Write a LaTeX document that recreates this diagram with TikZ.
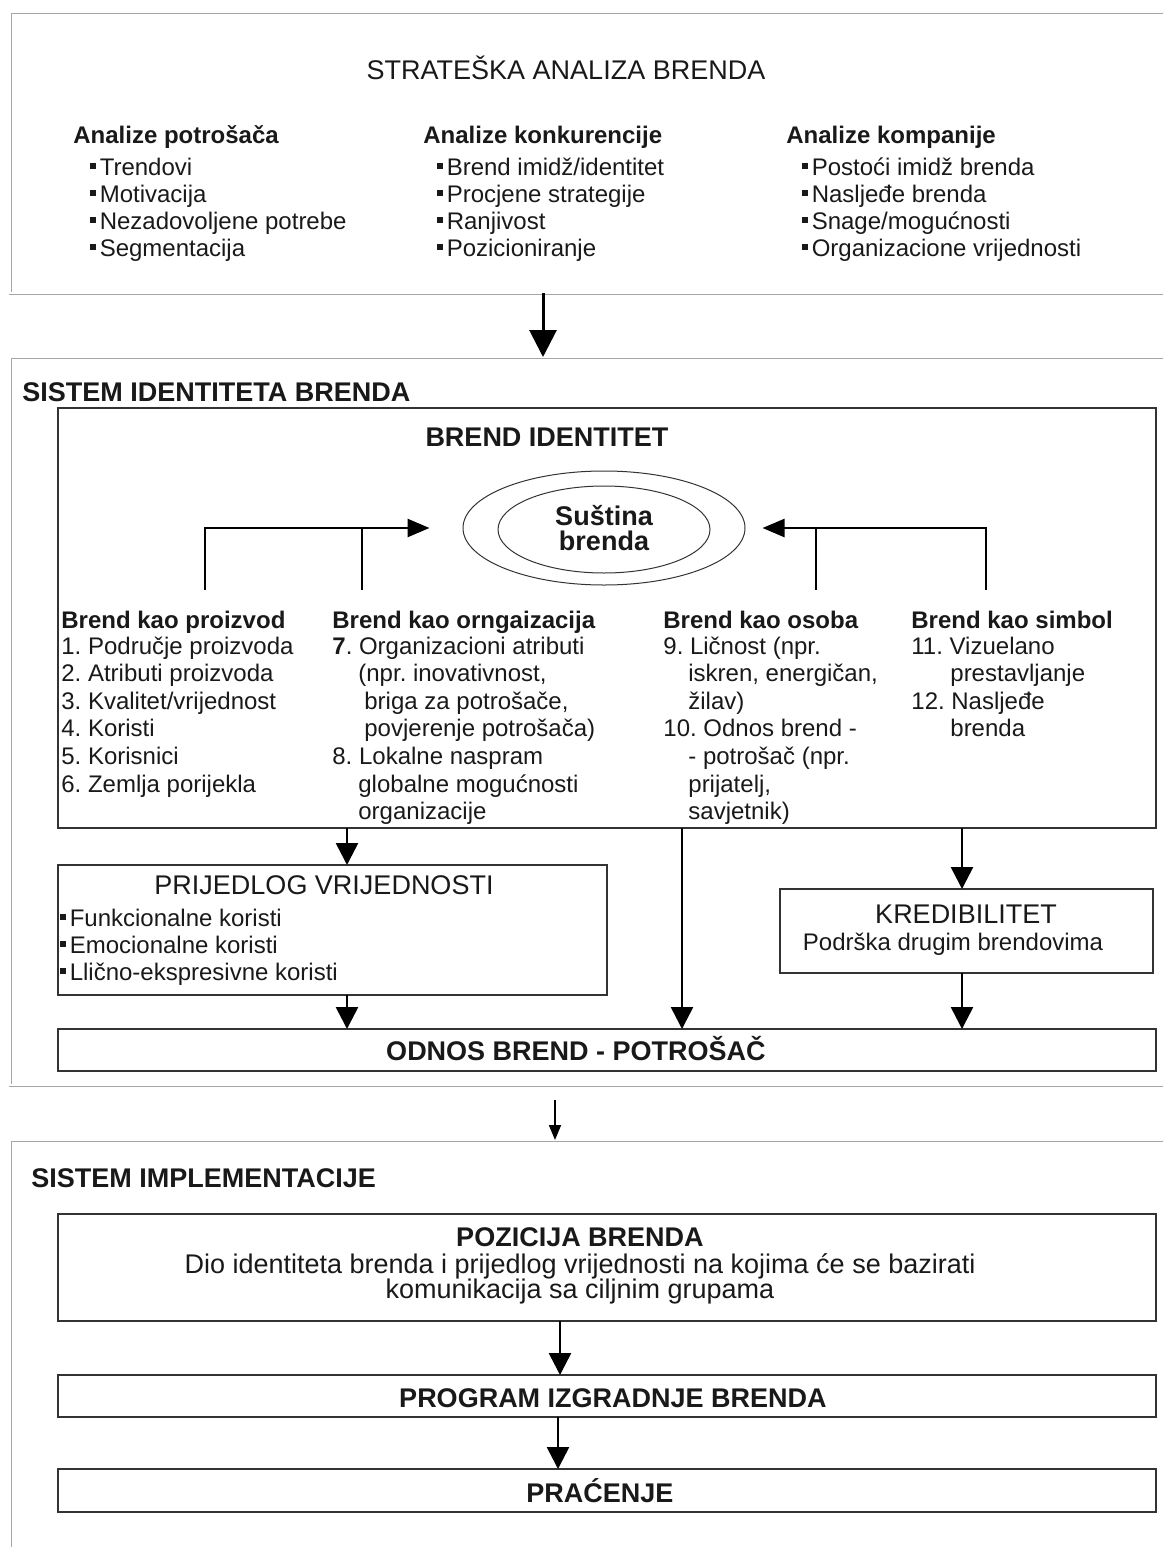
\documentclass[tikz,border=0pt]{standalone}
\usepackage{fontspec}
\setmainfont{Liberation Sans}
\usetikzlibrary{arrows.meta,shapes.geometric}
\frenchspacing

\newcommand\sqb{\raisebox{0.27em}{\rule{0.24em}{0.24em}}\hspace{0.15em}}

\tikzset{
  sect/.style={draw=black!35, double=white, double distance=0.8pt, line width=0.35pt, inner sep=0pt, outer sep=0pt},
  box/.style={draw=black!80, line width=0.6pt, inner sep=0pt, outer sep=0pt},
  txt/.style={inner sep=0pt, text=black!90, font=\fontsize{12}{14}\selectfont},
  hd/.style={txt, font=\fontsize{12}{14}\selectfont\bfseries},
  big/.style={txt, font=\fontsize{13.5}{16}\selectfont},
  bigb/.style={txt, font=\fontsize{13.5}{16}\selectfont\bfseries},
  flow/.style={line width=1.3pt, -{Triangle[width=11pt,length=11pt]}},
  bigflow/.style={line width=1.5pt, -{Triangle[width=13.5pt,length=13.5pt]}},
  thinflow/.style={line width=0.9pt, -{Triangle[width=6pt,length=7.5pt]}},
  elflow/.style={line width=1.3pt, -{Triangle[width=9pt,length=11pt]}},
}

\begin{document}
\begin{tikzpicture}[x=0.5pt, y=-0.5pt]
\clip (0,0) rectangle (1163,1547);

% strateska analiza
\node[sect, minimum width=582.5pt, minimum height=140.5pt] (strat) at (592.5,152.5) {};
\node[big, anchor=base] (stitle) at (566,79) {STRATEŠKA ANALIZA BRENDA};
\node[hd, anchor=base west] (hpot) at (73,143) {Analize potrošača};
\node[hd, anchor=base west] (hkon) at (423,143) {Analize konkurencije};
\node[hd, anchor=base west] (hkom) at (786,143) {Analize kompanije};
\foreach \t [count=\i] in {Trendovi, Motivacija, Nezadovoljene potrebe, Segmentacija}
  \node[txt, anchor=base west] (pot\i) at (90,{148+27*\i}) {\sqb\t};
\foreach \t [count=\i] in {Brend imidž/identitet, Procjene strategije, Ranjivost, Pozicioniranje}
  \node[txt, anchor=base west] (kon\i) at (437,{148+27*\i}) {\sqb\t};
\foreach \t [count=\i] in {Postoći imidž brenda, Nasljeđe brenda, Snage/mogućnosti, Organizacione vrijednosti}
  \node[txt, anchor=base west] (kom\i) at (802,{148+27*\i}) {\sqb\t};

% sistem identiteta
\node[sect, minimum width=582.5pt, minimum height=364pt] (sid) at (592.5,721) {};
\node[bigb, anchor=base west] (sidtitle) at (22,401) {SISTEM IDENTITETA BRENDA};
\node[box, line width=0.8pt, minimum width=549pt, minimum height=210pt] (bid) at (607,618) {};
\node[bigb, anchor=base] (bidtitle) at (547,446) {BREND IDENTITET};

\node[ellipse, draw=black!80, line width=0.5pt, minimum width=141pt, minimum height=57pt, inner sep=0pt] (outer) at (604,528) {};
\node[ellipse, draw=black!80, line width=0.5pt, minimum width=106pt, minimum height=43.5pt, inner sep=0pt] (inner) at (604,529.5) {};
\node[txt, align=center, font=\fontsize{13.5}{12.5}\selectfont\bfseries] (core) at (604,528) {Suština\\brenda};

\coordinate (e1) at (205,590);
\coordinate (e2) at (362,590);
\coordinate (e3) at (816,590);
\coordinate (e4) at (986,590);
\draw[elflow, shorten >=16.5pt] (e1) |- (outer.west);
\draw[line width=1.3pt] (e2) -- (e2 |- outer.west);
\draw[elflow, shorten >=8.5pt] (e4) |- (outer.east);
\draw[line width=1.3pt] (e3) -- (e3 |- outer.east);

\node[hd, anchor=base west] (cpro) at (61,628) {Brend kao proizvod};
\node[hd, anchor=base west] (corg) at (332,628) {Brend kao orngaizacija};
\node[hd, anchor=base west] (coso) at (663,628) {Brend kao osoba};
\node[hd, anchor=base west] (csim) at (911,628) {Brend kao simbol};
\foreach \t [count=\i] in {1. Područje proizvoda, 2. Atributi proizvoda, 3. Kvalitet/vrijednost, 4. Koristi, 5. Korisnici, 6. Zemlja porijekla}
  \node[txt, anchor=base west] (pro\i) at (61,{626.4+27.6*\i}) {\t};
\foreach \xo/\t [count=\i] in {0/{\textbf{7}. Organizacioni atributi}, 26/{(npr. inovativnost,}, 32/{briga za potrošače,}, 32/{povjerenje potrošača)}, 0/{8. Lokalne naspram}, 26/{globalne mogućnosti}, 26/{organizacije}}
  \node[txt, anchor=base west] (org\i) at ({332+\xo},{626.4+27.6*\i}) {\t};
\foreach \xo/\t [count=\i] in {0/{9. Ličnost (npr.}, 25/{iskren, energičan,}, 25/{žilav)}, 0/{10. Odnos brend -}, 25/{- potrošač (npr.}, 25/{prijatelj,}, 25/{savjetnik)}}
  \node[txt, anchor=base west] (oso\i) at ({663+\xo},{626.4+27.6*\i}) {\t};
\foreach \xo/\t [count=\i] in {0/{11. Vizuelano}, 39/{prestavljanje}, 0/{12. Nasljeđe}, 39/{brenda}}
  \node[txt, anchor=base west] (sim\i) at ({911+\xo},{626.4+27.6*\i}) {\t};

\node[box, minimum width=274.5pt, minimum height=65pt] (pv) at (332.5,930) {};
\node[big, anchor=base] (pvtitle) at (324,894) {PRIJEDLOG VRIJEDNOSTI};
\foreach \t [count=\i] in {Funkcionalne koristi, Emocionalne koristi, Llično-ekspresivne koristi}
  \node[txt, anchor=base west] (pv\i) at (60,{898.7+27.3*\i}) {\sqb\t};

\node[box, minimum width=186.5pt, minimum height=42pt] (kred) at (966.5,931) {};
\node[big, anchor=base] (kredtitle) at (966,923) {KREDIBILITET};
\node[txt, anchor=base] (kredtext) at (953,950) {Podrška drugim brendovima};

\node[box, minimum width=549pt, minimum height=21pt] (odnos) at (607,1050) {};
\node[bigb, anchor=base] (odnostext) at (576,1060) {ODNOS BREND - POTROŠAČ};

\coordinate (c1) at (347,0);
\coordinate (c2) at (682,0);
\coordinate (c3) at (962,0);
\draw[flow] (bid.south -| c1) -- (pv.north -| c1);
\draw[flow] (pv.south -| c1) -- (odnos.north -| c1);
\draw[flow] (bid.south -| c2) -- (odnos.north -| c2);
\draw[flow] (bid.south -| c3) -- (kred.north -| c3);
\draw[flow] (kred.south -| c3) -- (odnos.north -| c3);

% sistem implementacije
\node[sect, minimum width=582.5pt, minimum height=213.5pt] (sim) at (592.5,1353.5) {};
\node[bigb, anchor=base west] (simtitle) at (31,1187) {SISTEM IMPLEMENTACIJE};
\node[box, minimum width=549pt, minimum height=53.5pt] (poz) at (607,1267.5) {};
\node[bigb, anchor=base] (poztitle) at (580,1246) {POZICIJA BRENDA};
\node[big, anchor=base] (poztext1) at (580,1273) {Dio identiteta brenda i prijedlog vrijednosti na kojima će se bazirati};
\node[big, anchor=base] (poztext2) at (580,1298) {komunikacija sa ciljnim grupama};
\node[box, minimum width=549pt, minimum height=21pt] (prog) at (607,1396) {};
\node[bigb, anchor=base] (progtext) at (613,1407) {PROGRAM IZGRADNJE BRENDA};
\node[box, minimum width=549pt, minimum height=21.5pt] (prac) at (607,1490.5) {};
\node[bigb, anchor=base] (practext) at (600,1502) {PRAĆENJE};

% veze medju sistemima
\coordinate (a1) at (543,0);
\coordinate (a2) at (555,0);
\coordinate (a3) at (560,0);
\coordinate (a4) at (558,0);
\draw[bigflow] (strat.south -| a1) -- (sid.north -| a1);
\draw[thinflow, shorten <=7.5pt] (sid.south -| a2) -- (sim.north -| a2);
\draw[flow] (poz.south -| a3) -- (prog.north -| a3);
\draw[flow] (prog.south -| a4) -- (prac.north -| a4);
\end{tikzpicture}
\end{document}
